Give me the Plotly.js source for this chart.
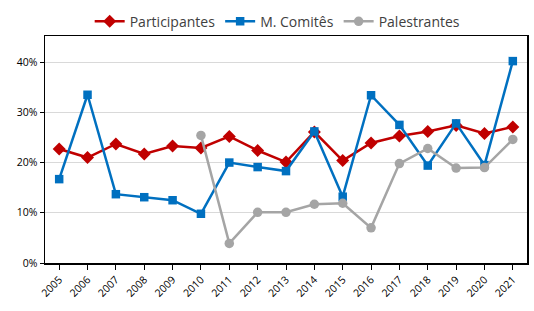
<!DOCTYPE html>
<html><head><meta charset="utf-8">
<script src="https://cdn.plot.ly/plotly-3.0.1.min.js"></script>
<style>html,body{margin:0;padding:0;background:#fff}#c{width:534px;height:311px}</style>
</head><body><div id="c"></div>
<script>
const years = ['2005','2006','2007','2008','2009','2010','2011','2012','2013','2014','2015','2016','2017','2018','2019','2020','2021'];
const participantes = [0.227,0.210,0.237,0.217,0.233,0.229,0.252,0.224,0.201,0.261,0.204,0.239,0.253,0.262,0.274,0.258,0.271];
const comites = [0.167,0.335,0.137,0.131,0.125,0.098,0.200,0.191,0.183,0.262,0.132,0.334,0.275,0.194,0.278,0.195,0.402];
const palestrantes = [null,null,null,null,null,0.254,0.039,0.101,0.101,0.117,0.119,0.070,0.198,0.228,0.189,0.190,0.246];
const names = ['Participantes','M. Comitês','Palestrantes'];

const traces = [
  {x: years, y: participantes, name: names[0], type:'scatter', mode:'lines+markers',
   line:{color:'#C00000', width:2.5}, marker:{symbol:'diamond', size:10, color:'#C00000'}},
  {x: years, y: comites, name: names[1], type:'scatter', mode:'lines+markers',
   line:{color:'#0070C0', width:2.5}, marker:{symbol:'square', size:8.5, color:'#0070C0'}},
  {x: years, y: palestrantes, name: names[2], type:'scatter', mode:'lines+markers',
   line:{color:'#A5A5A5', width:2.5}, marker:{symbol:'circle', size:9.5, color:'#A5A5A5'}}
];
const layout = {
  width:534, height:311,
  margin:{l:45, r:7, t:36, b:48, autoexpand:false},
  paper_bgcolor:'#fff', plot_bgcolor:'#fff',
  font:{family:'"Open Sans", Lato, sans-serif', color:'#000'},
  showlegend:true,
  legend:{orientation:'h', x:0.52, xanchor:'center', xref:'container', y:0.93, yanchor:'middle', yref:'container',
          bgcolor:'rgba(0,0,0,0)', font:{size:14, color:'#404040'}, itemwidth:30, tracegroupgap:0},
  xaxis:{type:'category', range:[-0.5,16.5], tickangle:-45, tickfont:{size:10.5},
         showgrid:false, showline:true, linecolor:'#000', linewidth:1.5, mirror:true,
         ticks:'outside', ticklen:5, tickcolor:'#000', zeroline:false, fixedrange:true},
  yaxis:{range:[0,0.452], tickvals:[0,0.1,0.2,0.3,0.4], tickformat:'.0%', tickfont:{size:10.5},
         showgrid:true, gridcolor:'#D9D9D9', gridwidth:1,
         showline:true, linecolor:'#000', linewidth:1.5, mirror:true,
         ticks:'outside', ticklen:4, tickcolor:'#000', zeroline:false, fixedrange:true}
};
Plotly.newPlot('c', traces, layout, {displayModeBar:false, staticPlot:true});
</script></body></html>
